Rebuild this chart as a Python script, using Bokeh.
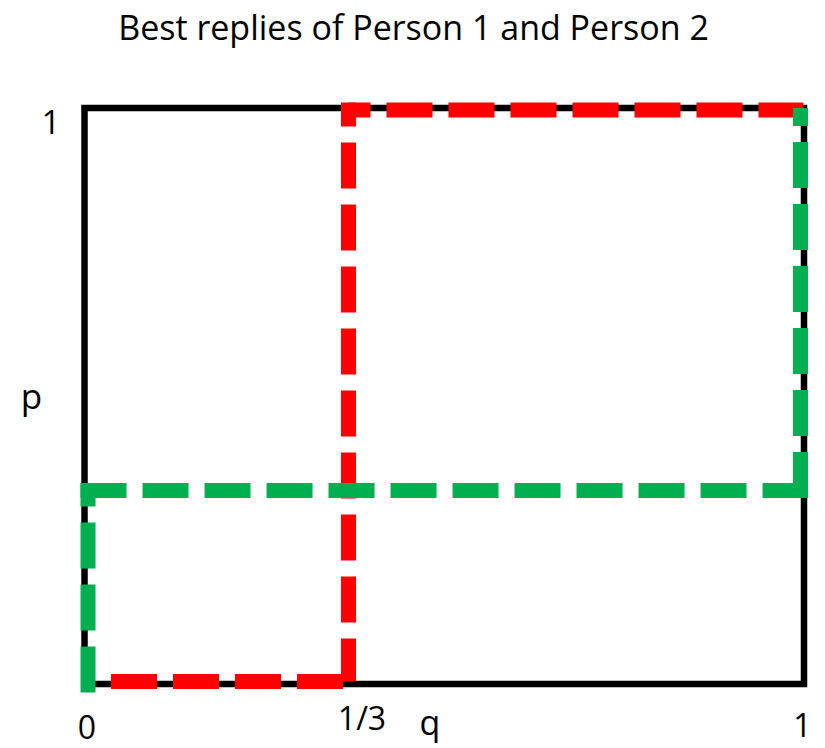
from bokeh.plotting import figure
from bokeh.models import Range1d
from bokeh.core.properties import value
from bokeh.embed import file_html
from bokeh.resources import INLINE

# ---------------- data ----------------
title_text = "Best replies of Person 1 and Person 2"
x_tick_labels = ["0", "1/3", "1"]
y_tick_labels = ["1"]
x_name = "q"
y_name = "p"

frame_q = [0, 1, 1, 0, 0]
frame_p = [0, 0, 1, 1, 0]

# Person 1 best reply (red)
red_q = [0.0049, 0.3669, 0.3669, 0.9993]
red_p = [0.0043, 0.0043, 0.9965, 0.9965]

# Person 2 best reply (green)
green_q = [0.0049, 0.0049, 0.9951, 0.9951]
green_p = [-0.0148, 0.336, 0.336, 1.0]

# ---------------- layout ----------------
W, H = 825, 748
OX, OY = 0, 0           # canvas origin in picture px
X0, X1 = 84.0, 803.5    # picture px of q=0 and q=1
Y0, Y1 = 683.5, 107.5   # picture px of p=0 and p=1
SX = X1 - X0
SY = Y0 - Y1
TEXT_DY = -12           # baseline correction for text rendering


def qx(px):
    return (px - X0) / SX


def py(px):
    return (Y0 - px) / SY


p = figure(width=W, height=H, output_backend="svg", toolbar_location=None,
           x_range=Range1d(qx(OX), qx(OX + W)), y_range=Range1d(py(OY + H), py(OY)),
           x_axis_location=None, y_axis_location=None, min_border=0)
p.grid.visible = False
p.outline_line_color = None
p.background_fill_color = "white"
p.border_fill_color = "white"

# frame
p.line(frame_q, frame_p, line_color="black", line_width=6.5, line_join="miter")


def dashed_path(qs, ps, color, offsets, exts):
    for i in range(len(qs) - 1):
        xa, ya, xb, yb = qs[i], ps[i], qs[i + 1], ps[i + 1]
        e0, e1 = exts[i]
        if xa == xb:
            s = 1 if yb > ya else -1
            ya -= s * e0 / SY
            yb += s * e1 / SY
        else:
            s = 1 if xb > xa else -1
            xa -= s * e0 / SX
            xb += s * e1 / SX
        p.line([xa, xb], [ya, yb], line_color=color, line_width=15,
               line_dash="46 16", line_dash_offset=offsets[i], line_cap="butt")


dashed_path(red_q, red_p, "#FF0000", [39, 3, 24], [(0, 0), (0, 7.5), (0, 0)])
dashed_path(green_q, green_p, "#00B050", [0, 0, 0], [(0, 7.5), (7.5, 7.5), (7.5, 0)])

FONT = value("Open Sans")


def label(txt, px_x, px_y, size):
    p.text(x=[qx(px_x)], y=[py(px_y + TEXT_DY)], text=[txt], text_font=FONT,
           text_font_size=size, text_align="center", text_baseline="alphabetic",
           text_color="black")


label(title_text, 413, 38, "34px")
label(x_tick_labels[0], 86.5, 738, "32px")
label(x_tick_labels[1], 361.5, 729, "32px")
label(x_tick_labels[2], 802, 736, "32px")
label(y_tick_labels[0], 50.5, 133, "33px")
label(x_name, 429.5, 733, "34px")
label(y_name, 31, 407, "35px")

open("out.html", "w").write(file_html(p, INLINE))
